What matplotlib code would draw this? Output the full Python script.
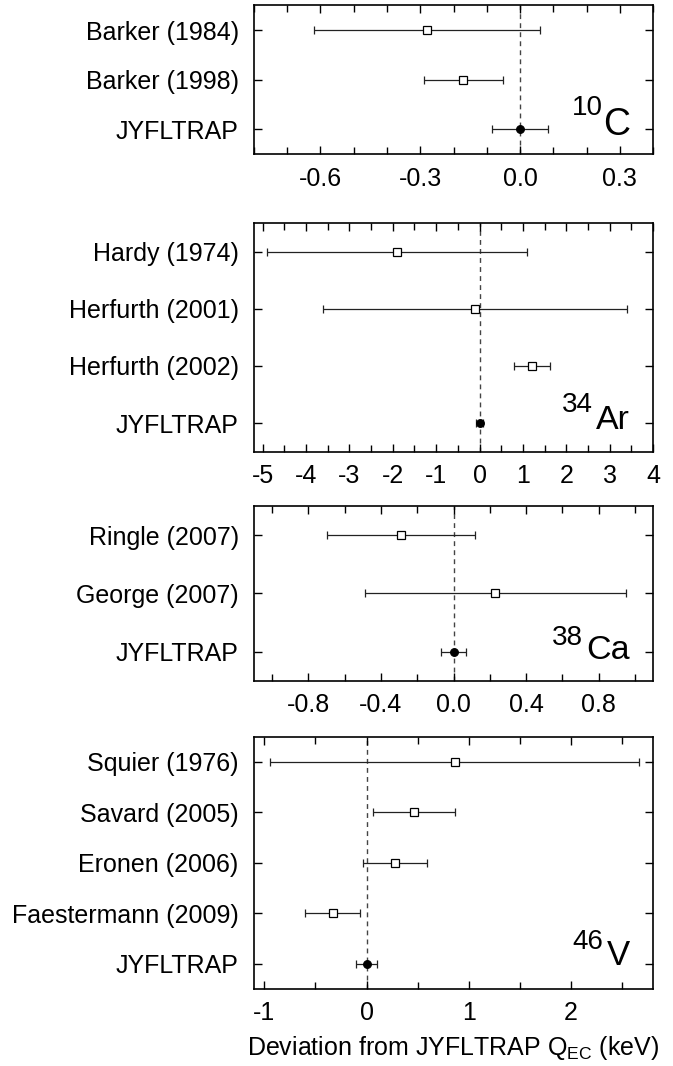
import numpy as np
import matplotlib
matplotlib.use('Agg')
import matplotlib.pyplot as plt
from matplotlib.ticker import MultipleLocator, FormatStrFormatter

plt.rcParams['font.family'] = ['Liberation Sans', 'DejaVu Sans']
plt.rcParams['mathtext.fontset'] = 'custom'
plt.rcParams['mathtext.rm'] = 'Liberation Sans'

# 10C
c_labels = ['Barker (1984)', 'Barker (1998)', 'JYFLTRAP']
c_vals = [-0.28, -0.17, 0.0]
c_errs = [0.34, 0.12, 0.085]

# 34Ar
ar_labels = ['Hardy (1974)', 'Herfurth (2001)', 'Herfurth (2002)', 'JYFLTRAP']
ar_vals = [-1.9, -0.1, 1.21, 0.0]
ar_errs = [3.0, 3.5, 0.42, 0.08]

# 38Ca
ca_labels = ['Ringle (2007)', 'George (2007)', 'JYFLTRAP']
ca_vals = [-0.29, 0.23, 0.0]
ca_errs = [0.41, 0.72, 0.07]

# 46V
v_labels = ['Squier (1976)', 'Savard (2005)', 'Eronen (2006)', 'Faestermann (2009)', 'JYFLTRAP']
v_vals = [0.86, 0.46, 0.28, -0.33, 0.0]
v_errs = [1.8, 0.40, 0.31, 0.27, 0.10]

panels = [
    # labels, vals, errs, xlim, major, minor, fmt, rect, mass, sym, symsize, sup pos, sym pos
    (c_labels, c_vals, c_errs, (-0.8, 0.4), 0.3, 0.1, '%.1f',
     [0.3774, 0.8555, 0.5929, 0.1395], '10', 'C', 27, (0.875, 0.262), (0.942, 0.128)),
    (ar_labels, ar_vals, ar_errs, (-5.2, 4.0), 1, 0.5, '%d',
     [0.3774, 0.5763, 0.5929, 0.2143], '34', 'Ar', 24.5, (0.850, 0.175), (0.942, 0.098)),
    (ca_labels, ca_vals, ca_errs, (-1.1, 1.1), 0.4, 0.2, '%.1f',
     [0.3774, 0.3614, 0.5929, 0.1639], '38', 'Ca', 24.5, (0.825, 0.204), (0.941, 0.122)),
    (v_labels, v_vals, v_errs, (-1.1, 2.8), 1, 0.5, '%d',
     [0.3774, 0.0725, 0.5929, 0.2364], '46', 'V', 25, (0.876, 0.156), (0.942, 0.094)),
]

fig = plt.figure(figsize=(6.73, 10.66), dpi=100)

for (labels, vals, errs, xlim, major, minor, fmt, rect, mass, sym, symsize, sup_pos, sym_pos) in panels:
    ax = fig.add_axes(rect)
    n = len(labels)
    ys = np.arange(n, 0, -1)
    ax.axvline(0, color='#444444', lw=1.0, ls=(0, (3.5, 3)), zorder=1)
    for i in range(n):
        last = (i == n - 1)
        ax.errorbar(vals[i], ys[i], xerr=errs[i], fmt='o' if last else 's',
                    ms=5.5, mfc='black' if last else 'white',
                    mec='black', mew=0.9, ecolor='#222222', elinewidth=0.9,
                    capsize=3.2, capthick=0.9, zorder=3)
    ax.set_xlim(*xlim)
    ax.set_ylim(0.5, n + 0.5)
    ax.set_yticks(ys)
    ax.set_yticklabels(labels)
    ax.xaxis.set_major_locator(MultipleLocator(major))
    ax.xaxis.set_minor_locator(MultipleLocator(minor))
    ax.xaxis.set_major_formatter(FormatStrFormatter(fmt))
    ax.tick_params(axis='both', which='both', direction='in', top=True, right=True,
                   labelsize=18, width=1.0)
    ax.tick_params(axis='x', which='major', length=5.5, pad=9)
    ax.tick_params(axis='x', which='minor', length=5.0)
    ax.tick_params(axis='y', which='major', length=5.5, pad=11)
    for s in ax.spines.values():
        s.set_linewidth(1.2)
    ax.text(sup_pos[0], sup_pos[1], mass, transform=ax.transAxes, ha='right',
            va='baseline', fontsize=20)
    ax.text(sym_pos[0], sym_pos[1], sym, transform=ax.transAxes, ha='right',
            va='baseline', fontsize=symsize)

ax.set_xlabel(r'Deviation from JYFLTRAP Q$_{\mathregular{EC}}$ (keV)', fontsize=18, labelpad=6)

fig.savefig('out.png', dpi=100)
